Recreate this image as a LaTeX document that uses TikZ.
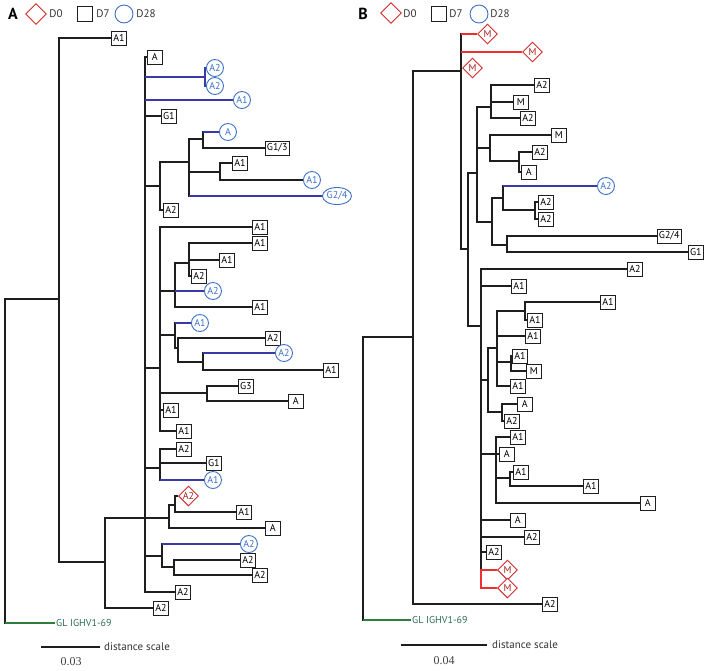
\documentclass[tikz,border=0pt]{standalone}
\usepackage{fontspec}
\setmainfont{PT Sans}
\newfontfamily\numfont{Liberation Serif}
\usetikzlibrary{shapes.geometric}

\definecolor{treeline}{HTML}{1E1E1E}
\definecolor{bluebr}{HTML}{3A3AA5}
\definecolor{bluecirc}{HTML}{3D72C6}
\definecolor{redbr}{HTML}{EE3030}
\definecolor{reddia}{HTML}{D42A2A}
\definecolor{redtxt}{HTML}{A52424}
\definecolor{glgreen}{HTML}{2E7D3A}
\definecolor{gltext}{HTML}{2D6E55}
\newcommand\leaffont{\fontsize{10}{11}\selectfont}

\begin{document}
\begin{tikzpicture}[x=1pt, y=-1pt,
		branch/.style={draw=treeline, line width=1.8pt},
		bluebranch/.style={draw=bluebr, line width=1.8pt},
		redbranch/.style={draw=redbr, line width=1.8pt},
		greenbranch/.style={draw=glgreen, line width=1.4pt},
		d7leaf/.style={draw=treeline, line width=0.8pt, fill=white, rectangle,
						minimum width=15pt, minimum height=14pt, inner sep=1.5pt, anchor=west, font=\leaffont},
		d28leaf/.style={draw=bluecirc, line width=0.9pt, fill=white, circle,
						minimum size=17pt, inner sep=0pt, text=bluecirc, anchor=west, font=\leaffont},
		d28wide/.style={d28leaf, ellipse, minimum height=17pt},
		d0leaf/.style={draw=reddia, line width=0.9pt, fill=white, diamond,
						minimum size=20pt, inner sep=0pt, text=redtxt, anchor=west, font=\leaffont},
		keytext/.style={font=\fontsize{11}{12}\selectfont, text=black!80, inner sep=0pt},
		panel/.style={font=\bfseries\fontsize{16}{16}\selectfont, inner sep=0pt},
		gllabel/.style={font=\leaffont, text=gltext, inner sep=1pt, anchor=west},
		scalebar/.style={draw=treeline, line width=1.5pt}]
	\useasboundingbox (0,0) rectangle (709,670);

	% keys
	\node[panel] (pA) at (13,14) {A};
	\node[d0leaf, anchor=center, minimum size=21pt] (kA0) at (36,14) {};
	\node[keytext] (tA0) at (56,14) {D0};
	\node[d7leaf, anchor=center, minimum width=15pt, minimum height=15pt] (kA7) at (85,14) {};
	\node[keytext] (tA7) at (103,14) {D7};
	\node[d28leaf, anchor=center, minimum size=18pt] (kA28) at (124,14) {};
	\node[keytext] (tA28) at (146,14) {D28};

	\node[panel] (pB) at (363,14) {B};
	\node[d0leaf, anchor=center, minimum size=21pt] (kB0) at (391,13) {};
	\node[keytext] (tB0) at (410,14) {D0};
	\node[d7leaf, anchor=center, minimum width=15pt, minimum height=15pt] (kB7) at (439,14) {};
	\node[keytext] (tB7) at (456,14) {D7};
	\node[d28leaf, anchor=center, minimum size=18pt] (kB28) at (479,14) {};
	\node[keytext] (tB28) at (500,14) {D28};

	% tree A
	\coordinate (A0) at (5,461);
	\coordinate (A1) at (59,299);
	\coordinate (A2) at (105,562);
	\coordinate (A3) at (145,518);
	\coordinate (A4) at (160,186);
	\coordinate (A5) at (189,162);
	\coordinate (A6) at (203,139);
	\coordinate (A7) at (220,172);
	\coordinate (A8) at (160,368);
	\coordinate (A9) at (175,291);
	\coordinate (A10) at (189,263);
	\coordinate (A11) at (175,335);
	\coordinate (A12) at (178,348);
	\coordinate (A13) at (203,362);
	\coordinate (A14) at (207,393);
	\coordinate (A15) at (160,468);
	\coordinate (A16) at (169,518);
	\coordinate (A17) at (175,505);
	\coordinate (A18) at (162,556);
	\coordinate (A19) at (174,567);
	\coordinate (Aa) at (205,77);

	\node[d7leaf] (a1) at (111,38) {A1};
	\node[d7leaf] (a2) at (153,608) {A2};
	\node[d7leaf] (a3) at (147,57) {A};
	\node[d28leaf] (a4) at (206,68) {A2};
	\node[d28leaf] (a5) at (206,86) {A2};
	\node[d28leaf] (a6) at (233,100) {A1};
	\node[d7leaf] (a7) at (161,116) {G1};
	\node[d28leaf] (a8) at (219,132) {A};
	\node[d7leaf] (a9) at (265,148) {G1/3};
	\node[d7leaf] (a10) at (232,163) {A1};
	\node[d28leaf] (a11) at (303,180) {A1};
	\node[d28wide] (a12) at (322,196) {G2/4};
	\node[d7leaf] (a13) at (163,210) {A2};
	\node[d7leaf] (a14) at (252,227) {A1};
	\node[d7leaf] (a15) at (252,243) {A1};
	\node[d7leaf] (a16) at (219,260) {A1};
	\node[d7leaf] (a17) at (191,276) {A2};
	\node[d28leaf] (a18) at (204,291) {A2};
	\node[d7leaf] (a19) at (252,307) {A1};
	\node[d28leaf] (a20) at (191,323) {A1};
	\node[d7leaf] (a21) at (265,338) {A2};
	\node[d28leaf] (a22) at (275,353) {A2};
	\node[d7leaf] (a23) at (323,370) {A1};
	\node[d7leaf] (a24) at (238,386) {G3};
	\node[d7leaf] (a25) at (288,401) {A};
	\node[d7leaf] (a26) at (163,410) {A1};
	\node[d7leaf] (a27) at (176,431) {A1};
	\node[d7leaf] (a28) at (176,449) {A2};
	\node[d7leaf] (a29) at (206,463) {G1};
	\node[d28leaf] (a30) at (204,480) {A1};
	\node[d0leaf] (a31) at (178,496) {A2};
	\node[d7leaf] (a32) at (236,512) {A1};
	\node[d7leaf] (a33) at (265,528) {A};
	\node[d28leaf] (a34) at (240,544) {A2};
	\node[d7leaf] (a35) at (240,560) {A2};
	\node[d7leaf] (a36) at (252,575) {A2};
	\node[d7leaf] (a37) at (175,592) {A2};
	\node[gllabel] (gA) at (55,623) {GL IGHV1-69};

	\draw[branch] (A0) |- (A1) (A0) |- (gA);
	\draw[branch] (A1) |- (a1) (A1) |- (A2);
	\draw[branch] (A2) |- (a2) (A2) |- (A3);
	\draw[branch] (A3) |- (a3) (A3) |- (Aa) (A3) |- (a6) (A3) |- (a7) (A3) |- (A4)
		(A3) |- (A8) (A3) |- (A15) (A3) |- (A16) (A3) |- (A18) (A3) |- (a37);
	\draw[branch] (A4) |- (A5) (A4) |- (a13);
	\draw[branch] (A5) |- (A6) (A5) |- (A7) (A5) |- (a12);
	\draw[branch] (A6) |- (a8) (A6) |- (a9);
	\draw[branch] (A7) |- (a10) (A7) |- (a11);
	\draw[branch] (A8) |- (a14) (A8) |- (A9) (A8) |- (A11) (A8) |- (A14) (A8) |- (a26) (A8) |- (a27);
	\draw[branch] (A9) |- (A10) (A9) |- (a18) (A9) |- (a19);
	\draw[branch] (A10) |- (a15) (A10) |- (a16) (A10) |- (a17);
	\draw[branch] (A11) |- (a20) (A11) |- (A12);
	\draw[branch] (A12) |- (a21) (A12) |- (A13);
	\draw[branch] (A13) |- (a22) (A13) |- (a23);
	\draw[branch] (A14) |- (a24) (A14) |- (a25);
	\draw[branch] (A15) |- (a28) (A15) |- (a29) (A15) |- (a30);
	\draw[branch] (A16) |- (A17) (A16) |- (a33);
	\draw[branch] (A17) |- (a31) (A17) |- (a32);
	\draw[branch] (A18) |- (a34) (A18) |- (A19);
	\draw[branch] (A19) |- (a35) (A19) |- (a36);

	\draw[bluebranch] (A3 |- Aa) -- (Aa) (A3 |- a6) -- (a6) (A6 |- a8) -- (a8) (A5 |- a12) -- (a12)
		(A9 |- a18) -- (a18) (A11 |- a20) -- (a20) (A13 |- a22) -- (a22) (A15 |- a30) -- (a30)
		(A18 |- a34) -- (a34);
	\draw[bluebranch] (Aa) |- (a4) (Aa) |- (a5);
	\draw[greenbranch] (A0 |- gA) -- (gA);

	% tree B
	\coordinate (B0) at (363,478);
	\coordinate (B1) at (413,337);
	\coordinate (B2) at (461,71);
	\coordinate (B3) at (468,249);
	\coordinate (B4) at (477,173);
	\coordinate (B5) at (491,107);
	\coordinate (B6) at (490,148);
	\coordinate (B7) at (519,161);
	\coordinate (B8) at (492,222);
	\coordinate (B9) at (503,198);
	\coordinate (B10) at (535,210);
	\coordinate (B11) at (507,245);
	\coordinate (B12) at (481,326);
	\coordinate (B13) at (488,380);
	\coordinate (B14) at (497,348);
	\coordinate (B15) at (525,311);
	\coordinate (B16) at (511,362);
	\coordinate (B17) at (502,412);
	\coordinate (B18) at (496,454);
	\coordinate (B19) at (510,478);
	\coordinate (Br) at (481,578);

	\node[d7leaf] (b1) at (542,604) {A2};
	\node[d0leaf] (b2) at (477,34) {M};
	\node[d0leaf] (b3) at (522,52) {M};
	\node[d0leaf] (b4) at (462,68) {M};
	\node[d7leaf] (b5) at (534,85) {A2};
	\node[d7leaf] (b6) at (513,102) {M};
	\node[d7leaf] (b7) at (520,118) {A2};
	\node[d7leaf] (b8) at (551,135) {M};
	\node[d7leaf] (b9) at (532,152) {A2};
	\node[d7leaf] (b10) at (521,172) {A};
	\node[d28leaf] (b11) at (597,186) {A2};
	\node[d7leaf] (b12) at (538,202) {A2};
	\node[d7leaf] (b13) at (538,219) {A2};
	\node[d7leaf] (b14) at (657,236) {G2/4};
	\node[d7leaf] (b15) at (688,252) {G1};
	\node[d7leaf] (b16) at (627,269) {A2};
	\node[d7leaf] (b17) at (511,286) {A1};
	\node[d7leaf] (b18) at (600,302) {A1};
	\node[d7leaf] (b19) at (527,320) {A1};
	\node[d7leaf] (b20) at (525,336) {A1};
	\node[d7leaf] (b21) at (512,356) {A1};
	\node[d7leaf] (b22) at (526,371) {M};
	\node[d7leaf] (b23) at (510,386) {A1};
	\node[d7leaf] (b24) at (517,404) {A};
	\node[d7leaf] (b25) at (504,421) {A2};
	\node[d7leaf] (b26) at (510,437) {A1};
	\node[d7leaf] (b27) at (499,454) {A};
	\node[d7leaf] (b28) at (513,472) {A1};
	\node[d7leaf] (b29) at (583,486) {A1};
	\node[d7leaf] (b30) at (640,503) {A};
	\node[d7leaf] (b31) at (510,520) {A};
	\node[d7leaf] (b32) at (524,537) {A2};
	\node[d7leaf] (b33) at (486,552) {A2};
	\node[d0leaf] (b34) at (497,570) {M};
	\node[d0leaf] (b35) at (497,588) {M};
	\node[gllabel] (gB) at (411,620) {GL IGHV1-69};

	\draw[branch] (B0) |- (B1) (B0) |- (gB);
	\draw[branch] (B1) |- (B2) (B1) |- (b1);
	\draw[branch] (B2) |- (b2) (B2) |- (b3) (B2) |- (b4) (B2) |- (B3);
	\draw[branch] (B3) |- (B4) (B3) |- (B12);
	\draw[branch] (B4) |- (B5) (B4) |- (B6) (B4) |- (B8);
	\draw[branch] (B5) |- (b5) (B5) |- (b6) (B5) |- (b7);
	\draw[branch] (B6) |- (b8) (B6) |- (B7);
	\draw[branch] (B7) |- (b9) (B7) |- (b10);
	\draw[branch] (B8) |- (B9) (B8) |- (B11);
	\draw[branch] (B9) |- (b11) (B9) |- (B10);
	\draw[branch] (B10) |- (b12) (B10) |- (b13);
	\draw[branch] (B11) |- (b14) (B11) |- (b15);
	\draw[branch] (B12) |- (b16) (B12) |- (b17) (B12) |- (B13) (B12) |- (B18)
		(B12) |- (b31) (B12) |- (b32) (B12) |- (b33) (B12) |- (Br);
	\draw[branch] (B13) |- (B14) (B13) |- (B17);
	\draw[branch] (B14) |- (B15) (B14) |- (b20) (B14) |- (B16) (B14) |- (b23);
	\draw[branch] (B15) |- (b18) (B15) |- (b19);
	\draw[branch] (B16) |- (b21) (B16) |- (b22);
	\draw[branch] (B17) |- (b24) (B17) |- (b25);
	\draw[branch] (B18) |- (b26) (B18) |- (b27) (B18) |- (B19) (B18) |- (b30);
	\draw[branch] (B19) |- (b28) (B19) |- (b29);

	\draw[redbranch] (B2 |- b2) -- (b2) (B2 |- b3) -- (b3);
	\draw[redbranch] (Br) |- (b34) (Br) |- (b35);
	\draw[bluebranch] (B9 |- b11) -- (b11);
	\draw[greenbranch] (B0 |- gB) -- (gB);

	% scale bars
	\coordinate (sA1) at (41,647);
	\coordinate (sA2) at (100,647);
	\draw[scalebar] (sA1) -- (sA2);
	\node[keytext, anchor=west] (dA) at (104,647) {distance scale};
	\node[font=\numfont\fontsize{12}{12}\selectfont, text=black!75] (vA) at (71,662) {0.03};

	\coordinate (sB1) at (401,645);
	\coordinate (sB2) at (487,645);
	\draw[scalebar] (sB1) -- (sB2);
	\node[keytext, anchor=west] (dB) at (492,645) {distance scale};
	\node[font=\numfont\fontsize{12}{12}\selectfont, text=black!75] (vB) at (444,661) {0.04};
\end{tikzpicture}
\end{document}
